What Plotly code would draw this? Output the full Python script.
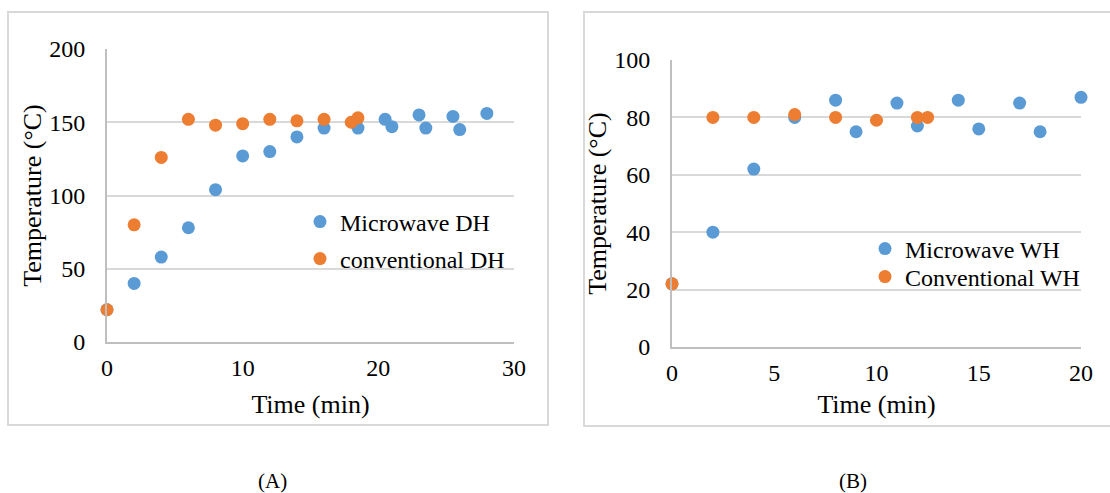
import plotly.graph_objects as go

# Panel A: dry heating (DH)
dh_mw_time = [0, 2, 4, 6, 8, 10, 12, 14, 16, 18.5, 20.5, 21, 23, 23.5, 25.5, 26, 28]
dh_mw_temp = [22, 40, 58, 78, 104, 127, 130, 140, 146, 146, 152, 147, 155, 146, 154, 145, 156]
dh_cv_time = [0, 2, 4, 6, 8, 10, 12, 14, 16, 18, 18.5]
dh_cv_temp = [22, 80, 126, 152, 148, 149, 152, 151, 152, 150, 153]

# Panel B: wet heating (WH)
wh_mw_time = [0, 2, 4, 6, 8, 9, 11, 12, 14, 15, 17, 18, 20]
wh_mw_temp = [22, 40, 62, 80, 86, 75, 85, 77, 86, 76, 85, 75, 87]
wh_cv_time = [0, 2, 4, 6, 8, 10, 12, 12.5]
wh_cv_temp = [22, 80, 80, 81, 80, 79, 80, 80]

a_ticks = [0, 10, 20, 30]
b_ticks = [0, 5, 10, 15, 20]

BLUE = "#5B9BD5"
ORANGE = "#ED7D31"
FONT = "Liberation Serif"
W, H = 1110, 493


def px_x(v):
    return v / W


def px_y(v):
    return 1 - v / H


fig = go.Figure()

marker_size = 13
series = [
    (dh_mw_time, dh_mw_temp, "Microwave DH", BLUE, "x", "y", "legend"),
    (dh_cv_time, dh_cv_temp, "conventional DH", ORANGE, "x", "y", "legend2"),
    (wh_mw_time, wh_mw_temp, "Microwave WH", BLUE, "x2", "y2", "legend3"),
    (wh_cv_time, wh_cv_temp, "Conventional WH", ORANGE, "x2", "y2", "legend4"),
]
for xs, ys, name, color, xa, ya, lg in series:
    fig.add_trace(go.Scatter(x=xs, y=ys, mode="markers", name=name,
                             marker=dict(color=color, size=marker_size), xaxis=xa, yaxis=ya,
                             legend=lg, cliponaxis=False))

tick_font = dict(family=FONT, size=24, color="#000000")
title_font = dict(family=FONT, size=26, color="#000000")
grid = "#d9d9d9"
axis_line = "#bfbfbf"

common_x = dict(showgrid=False, zeroline=False, showline=True, linecolor=axis_line, linewidth=2,
                ticks="", tickfont=tick_font, ticklabelstandoff=3, automargin=False)
common_y = dict(showgrid=True, gridcolor=grid, gridwidth=2, zeroline=False, showline=True,
                linecolor=axis_line, linewidth=2, ticks="", tickfont=tick_font, ticklabelstandoff=15,
                automargin=False,
                title=dict(text="Temperature (°C)", font=title_font, standoff=0))


def legend_at(x_px, y_px):
    return dict(x=px_x(x_px), y=px_y(y_px), xanchor="left", yanchor="middle",
                bgcolor="rgba(0,0,0,0)", font=dict(family=FONT, size=24, color="#000000"),
                itemwidth=30)


fig.update_layout(
    width=W, height=H,
    margin=dict(l=0, r=0, t=0, b=0, autoexpand=False),
    paper_bgcolor="white", plot_bgcolor="white",
    font=dict(family=FONT, color="#000000"),
    xaxis=dict(domain=[px_x(107), px_x(514)], range=[0, 30], tickvals=a_ticks, anchor="y",
               title=dict(text="Time (min)", font=title_font, standoff=15), **common_x),
    yaxis=dict(domain=[px_y(342), px_y(49)], range=[0, 200], dtick=50, anchor="x", **common_y),
    xaxis2=dict(domain=[px_x(672), px_x(1081)], range=[0, 20], tickvals=b_ticks, anchor="y2",
                title=dict(text="Time (min)", font=title_font, standoff=10), **common_x),
    yaxis2=dict(domain=[px_y(347), px_y(60)], range=[0, 100], dtick=20, anchor="x2", **common_y),
    legend=legend_at(300, 222),
    legend2=legend_at(300, 259),
    legend3=legend_at(865, 249),
    legend4=legend_at(865, 277),
    showlegend=True,
    shapes=[
        dict(type="rect", xref="paper", yref="paper", x0=px_x(8), x1=px_x(548), y0=px_y(425), y1=px_y(12),
             line=dict(color=grid, width=2), fillcolor="rgba(0,0,0,0)", layer="below"),
        dict(type="rect", xref="paper", yref="paper", x0=px_x(584), x1=px_x(1120), y0=px_y(426), y1=px_y(12),
             line=dict(color=grid, width=2), fillcolor="rgba(0,0,0,0)", layer="below"),
    ],
    annotations=[
        dict(text="(A)", xref="paper", yref="paper", x=px_x(272), y=px_y(481), showarrow=False,
             xanchor="center", yanchor="middle", font=dict(family=FONT, size=21, color="#000000")),
        dict(text="(B)", xref="paper", yref="paper", x=px_x(853), y=px_y(481), showarrow=False,
             xanchor="center", yanchor="middle", font=dict(family=FONT, size=21, color="#000000")),
    ],
)

fig.write_html("out.html")
